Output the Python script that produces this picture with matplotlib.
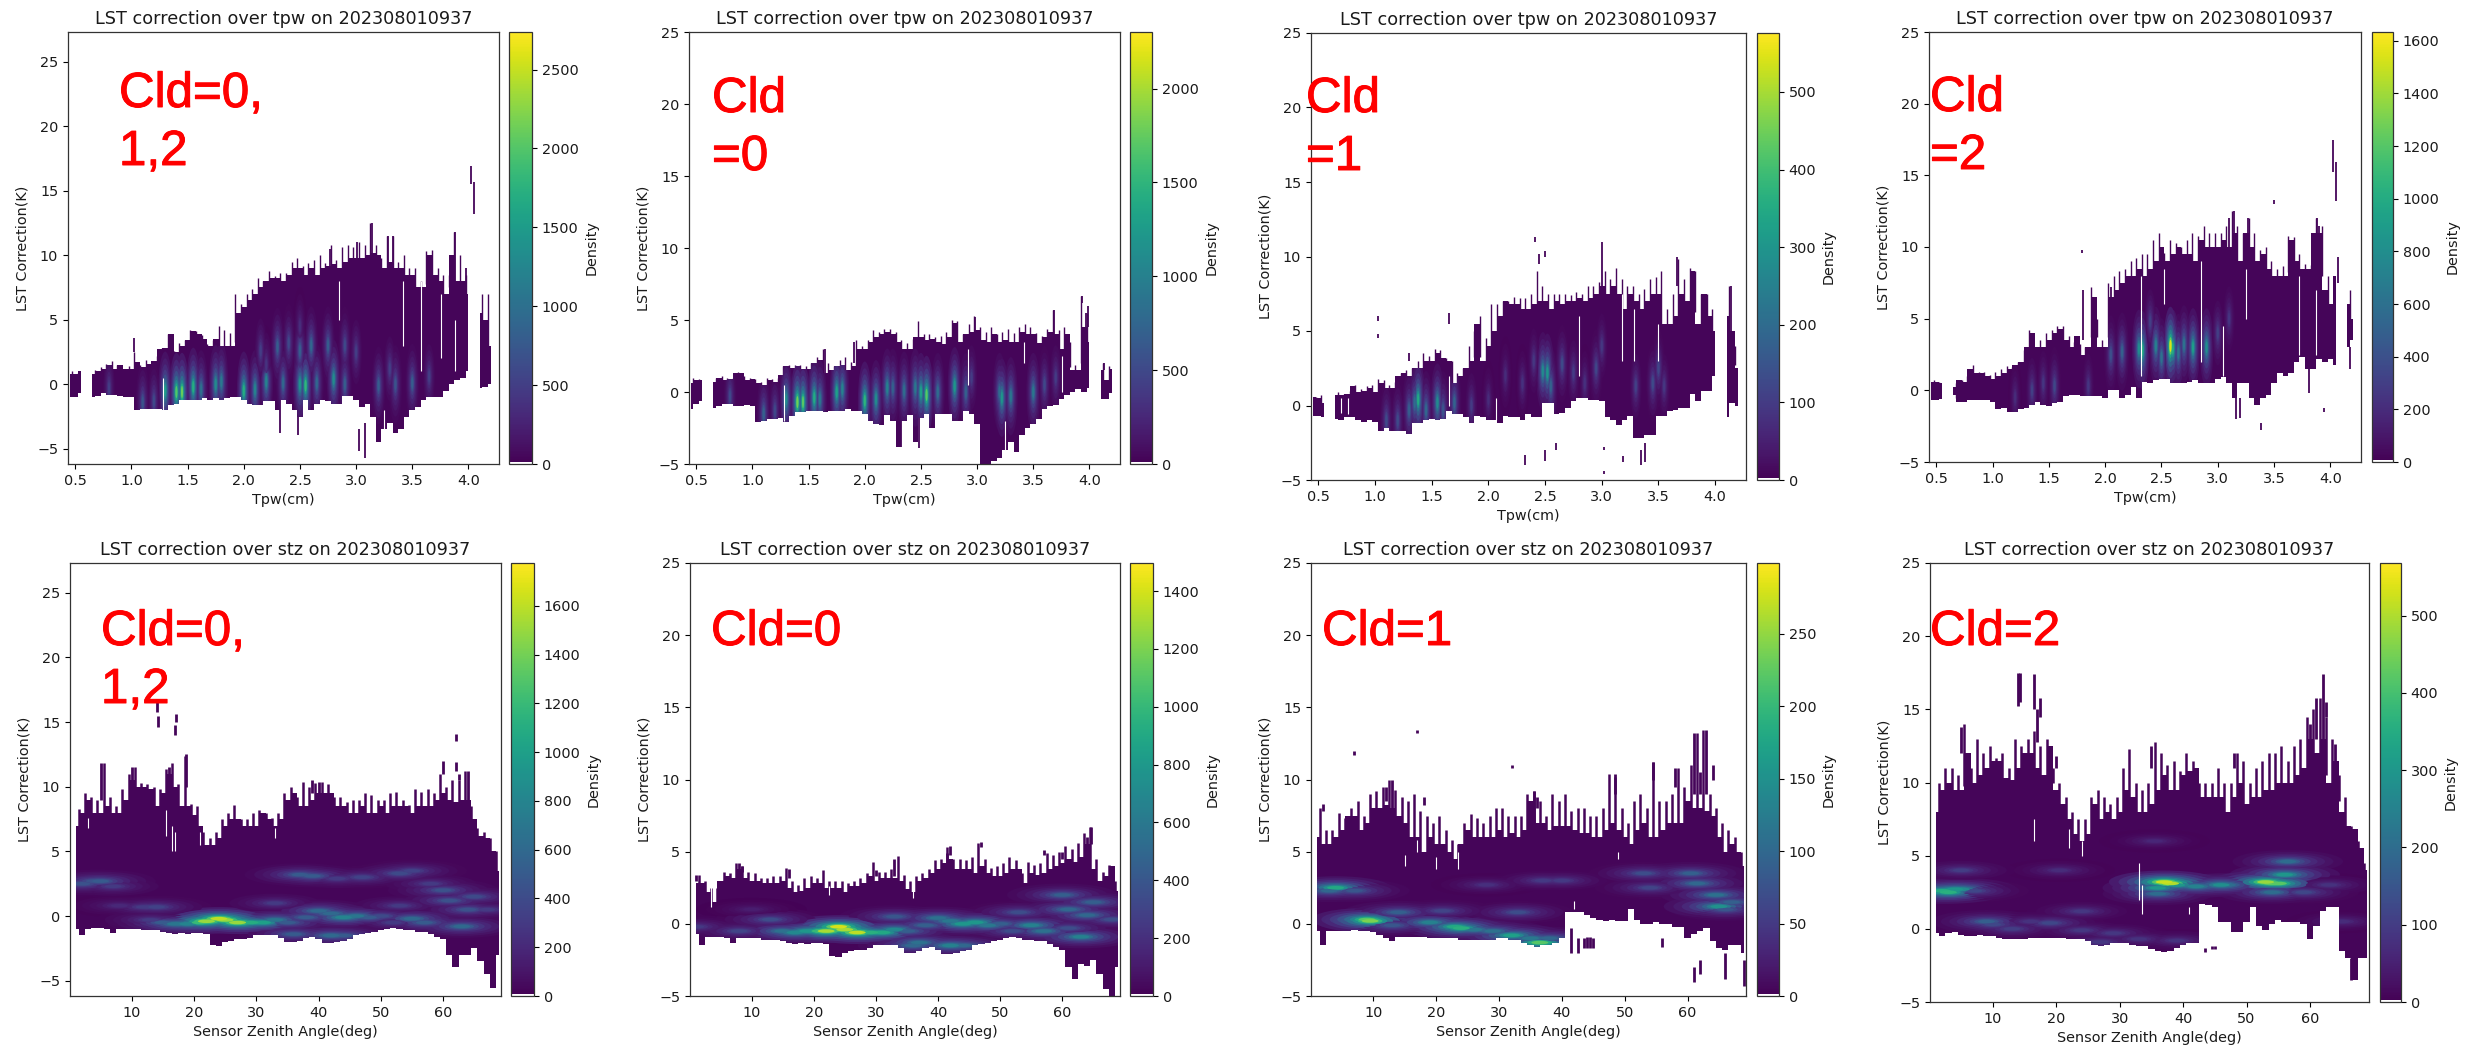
#!/usr/bin/env python3
"""LST correction density panels, tpw on the top row and stz on the bottom row."""

import numpy as np
import matplotlib
matplotlib.use('Agg')
import matplotlib.pyplot as plt
import matplotlib.patheffects as pe
from matplotlib.cm import ScalarMappable
from matplotlib.colors import ListedColormap, Normalize
from matplotlib.markers import MarkerStyle
from matplotlib.path import Path
from matplotlib.transforms import Affine2D

nan = float('nan')
W, H = 2475, 1047

# columns of the point cloud
tpw_x = [0.45, 0.50, 0.55, 0.60, 0.65, 0.70, 0.75, 0.80, 0.85, 0.90,
         0.95, 1.00, 1.05, 1.10, 1.15, 1.20, 1.25, 1.30, 1.35, 1.40,
         1.45, 1.50, 1.55, 1.60, 1.65, 1.70, 1.75, 1.80, 1.85, 1.90,
         1.95, 2.00, 2.05, 2.10, 2.15, 2.20, 2.25, 2.30, 2.35, 2.40,
         2.45, 2.50, 2.55, 2.60, 2.65, 2.70, 2.75, 2.80, 2.85, 2.90,
         2.95, 3.00, 3.05, 3.10, 3.15, 3.20, 3.25, 3.30, 3.35, 3.40,
         3.45, 3.50, 3.55, 3.60, 3.65, 3.70, 3.75, 3.80, 3.85, 3.90,
         3.95, 4.00, 4.05, 4.10, 4.15, 4.20]
stz_x = [1, 2, 3, 4, 5, 6, 7, 8, 9, 10,
         11, 12, 13, 14, 15, 16, 17, 18, 19, 20,
         21, 22, 23, 24, 25, 26, 27, 28, 29, 30,
         31, 32, 33, 34, 35, 36, 37, 38, 39, 40,
         41, 42, 43, 44, 45, 46, 47, 48, 49, 50,
         51, 52, 53, 54, 55, 56, 57, 58, 59, 60,
         61, 62, 63, 64, 65, 66, 67, 68, 69]
# thin streaks on the top edge sit between the columns
tpw_tip_x = [0.475, 0.525, 0.575, 0.625, 0.675, 0.725, 0.775, 0.825, 0.875, 0.925,
             0.975, 1.025, 1.075, 1.125, 1.175, 1.225, 1.275, 1.325, 1.375, 1.425,
             1.475, 1.525, 1.575, 1.625, 1.675, 1.725, 1.775, 1.825, 1.875, 1.925,
             1.975, 2.025, 2.075, 2.125, 2.175, 2.225, 2.275, 2.325, 2.375, 2.425,
             2.475, 2.525, 2.575, 2.625, 2.675, 2.725, 2.775, 2.825, 2.875, 2.925,
             2.975, 3.025, 3.075, 3.125, 3.175, 3.225, 3.275, 3.325, 3.375, 3.425,
             3.475, 3.525, 3.575, 3.625, 3.675, 3.725, 3.775, 3.825, 3.875, 3.925,
             3.975, 4.025, 4.075, 4.125, 4.175]
stz_tip_x = [1.5, 2.5, 3.5, 4.5, 5.5, 6.5, 7.5, 8.5, 9.5, 10.5,
             11.5, 12.5, 13.5, 14.5, 15.5, 16.5, 17.5, 18.5, 19.5, 20.5,
             21.5, 22.5, 23.5, 24.5, 25.5, 26.5, 27.5, 28.5, 29.5, 30.5,
             31.5, 32.5, 33.5, 34.5, 35.5, 36.5, 37.5, 38.5, 39.5, 40.5,
             41.5, 42.5, 43.5, 44.5, 45.5, 46.5, 47.5, 48.5, 49.5, 50.5,
             51.5, 52.5, 53.5, 54.5, 55.5, 56.5, 57.5, 58.5, 59.5, 60.5,
             61.5, 62.5, 63.5, 64.5, 65.5, 66.5, 67.5, 68.5]

tpw_all_hi = [0.8, 0.8, 1.0, nan, 0.8, 1.0, 1.2, 1.5, 1.2, 1.5,
              1.2, 1.2, 1.7, 1.3, 1.6, 1.8, 2.7, 2.8, 3.9, 2.5,
              3.0, 3.4, 4.1, 3.9, 3.5, 3.0, 3.5, 3.0, 3.0, 3.0,
              5.5, 6.0, 6.5, 7.0, 7.5, 8.0, 8.2, 8.2, 8.0, 8.5,
              9.0, 9.0, 8.5, 9.0, 8.5, 9.0, 9.2, 9.3, 9.0, 9.5,
              9.8, 9.8, 9.8, 10.0, 10.2, 10.0, 9.0, 9.5, 9.0, 9.0,
              8.5, 8.5, 7.5, 7.5, 10.0, 8.5, 8.0, 7.0, 10.0, 8.0,
              8.0, 7.0, nan, 5.5, 5.0, 3.0]
tpw_all_lo = [-1.0, -1.0, -0.7, nan, -1.0, -0.9, -0.7, -0.8, -0.8, -0.9,
              -1.0, -1.0, -2.0, -1.9, -1.9, -1.9, -1.9, -2.0, -1.6, -1.5,
              -1.2, -1.2, -1.2, -1.2, -1.1, -1.2, -1.1, -1.2, -1.1, -1.0,
              -1.0, -1.2, -1.5, -1.6, -1.6, -1.3, -1.3, -2.0, -1.2, -1.5,
              -2.0, -2.5, -1.2, -2.0, -1.5, -1.2, -1.3, -1.5, -1.5, -0.9,
              -0.9, -1.2, -1.8, -1.5, -2.5, -4.5, -3.5, -3.0, -3.8, -3.5,
              -2.5, -2.0, -1.8, -1.2, -1.0, -1.0, -1.0, -0.5, 0.0, 0.3,
              0.5, 1.0, nan, -0.3, -0.2, 0.0]
tpw_all_tip = [1.0, 0.9, nan, nan, 1.1, 1.3, 1.6, 1.8, 1.5, 1.2,
               1.4, 2.5, 1.5, 1.9, 1.5, 2.2, 2.8, 3.9, 2.6, 3.2,
               3.4, 4.2, 4.1, 3.8, 3.1, 3.4, 4.5, 4.2, 4.0, 7.0,
               6.2, 7.0, 7.4, 8.2, 8.0, 8.8, 8.4, 8.6, 8.6, 9.5,
               9.8, 9.2, 9.4, 9.6, 10.0, 9.4, 10.8, 9.6, 10.6, 10.8,
               10.6, 11.0, 10.8, 12.5, 10.8, 9.8, 11.5, 11.5, 9.5, 10.0,
               9.0, 9.0, 8.0, 10.3, 10.4, 9.0, 8.5, 8.5, 11.8, 10.0,
               8.5, 7.0, nan, 7.0, 7.0]
tpw_all_ridge_x = [0.8, 1.1, 1.2, 1.3, 1.4, 1.45, 1.55, 1.62, 1.75, 1.8, 2.0, 2.1, 2.2, 2.35,
                   2.5, 2.55, 2.65, 2.8, 2.9, 3.2, 3.35, 3.5, 3.65,
                   2.15, 2.3, 2.4, 2.5, 2.6, 2.75, 2.9, 3.0, 3.3, 2.5, 2.2]
tpw_all_ridge_y = [-0.3, -1.4, -1.3, -0.5, -0.6, -0.6, -0.2, -0.4, 0.0, 0.2, -0.5, -0.4, 0.2, 0.1,
                   0.0, -0.1, 0.1, 0.4, 0.0, -0.1, 0.0, 0.1, 0.6,
                   2.6, 2.9, 3.2, 2.6, 3.0, 3.0, 3.0, 2.5, 1.2, 4.5, 1.5]
tpw_all_ridge_d = [500, 700, 600, 1500, 2000, 2100, 1700, 1000, 1300, 1100, 1700, 1200, 1200, 900,
                   1400, 1800, 900, 1300, 800, 800, 700, 800, 500,
                   500, 800, 600, 800, 900, 800, 600, 500, 500, 350, 400]
tpw_all_spike_x = [4.02, 4.05, 3.14, 3.28, 3.33, 3.08, 3.03, 2.32, 2.48, 3.88, 3.01, 1.33, 1.02, 2.77, 3.98]
tpw_all_spike_lo = [15.5, 13.2, 9.0, 9.0, 9.0, -5.7, -5.2, -3.8, -3.9, 8.0, 9.0, 2.5, 2.5, 9.0, 8.0]
tpw_all_spike_hi = [16.9, 15.7, 12.5, 11.5, 11.5, -3.0, -3.5, -1.0, -1.0, 11.8, 11.0, 3.9, 3.6, 10.5, 9.0]
tpw_all_gap_x = [1.28, 2.85, 3.25, 3.42, 3.58, 3.76, 3.88]
tpw_all_gap_lo = [-2.0, 5.0, -4.0, 3.0, 1.0, 2.0, 1.0]
tpw_all_gap_hi = [0.5, 8.0, -2.0, 8.0, 8.0, 7.0, 5.0]

tpw_c0_hi = [0.6, 0.8, 0.8, nan, 0.7, 1.0, 0.8, 0.9, 1.3, 1.3,
             0.8, 0.9, 0.6, 0.5, 0.8, 0.7, 1.2, 1.8, 1.7, 1.8,
             1.6, 1.6, 2.0, 2.2, 1.3, 1.5, 1.8, 1.9, 1.5, 1.8,
             3.0, 3.0, 3.5, 3.8, 4.0, 4.2, 4.0, 3.5, 3.0, 3.0,
             3.8, 3.8, 3.6, 3.7, 3.5, 3.3, 3.8, 4.8, 3.5, 4.0,
             4.2, 4.3, 3.6, 3.5, 4.0, 3.5, 3.6, 3.5, 3.5, 4.2,
             4.0, 4.0, 3.4, 3.8, 4.2, 4.0, 3.0, 4.0, 1.5, 1.5,
             4.5, 3.5, nan, 1.5, 0.8, 1.6]
tpw_c0_lo = [-1.2, -0.8, -0.6, nan, -1.1, -1.0, -0.8, -0.8, -1.0, -1.0,
             -0.9, -1.0, -2.1, -2.0, -1.9, -1.9, -1.8, -2.1, -1.7, -1.4,
             -1.4, -1.3, -1.3, -1.3, -1.4, -1.3, -1.3, -1.3, -1.2, -1.3,
             -1.3, -1.5, -2.0, -2.2, -2.3, -1.6, -2.0, -3.8, -2.0, -1.6,
             -3.5, -1.8, -1.5, -2.5, -1.5, -1.5, -1.5, -2.0, -2.0, -1.3,
             -1.5, -2.2, -5.0, -5.0, -4.8, -4.6, -4.0, -3.5, -4.2, -3.0,
             -2.5, -2.2, -1.9, -1.2, -1.0, -0.9, -0.5, -0.2, 0.0, 0.2,
             0.0, 0.3, nan, -0.5, -0.5, -0.1]
tpw_c0_tip = [1.0, 0.9, nan, nan, 1.0, 1.1, 1.0, 1.0, 1.4, 1.1,
              1.0, 0.9, 0.7, 1.0, 0.9, 1.0, 1.8, 1.9, 1.9, 1.9,
              1.8, 2.0, 2.4, 3.0, 2.0, 1.8, 2.2, 2.4, 2.1, 3.6,
              3.2, 3.6, 4.3, 4.2, 4.4, 4.4, 4.2, 3.6, 3.4, 3.7,
              4.9, 4.0, 4.0, 3.8, 3.9, 4.2, 5.0, 4.9, 4.0, 4.7,
              5.3, 4.5, 4.2, 4.5, 4.0, 4.2, 4.4, 4.1, 4.5, 4.7,
              4.5, 4.1, 3.9, 4.4, 5.7, 4.3, 4.5, 3.5, 1.9, 6.7,
              5.5, nan, nan, 2.0, 1.8]
tpw_c0_ridge_x = [0.8, 1.1, 1.2, 1.3, 1.4, 1.45, 1.55, 1.6, 1.75, 1.8, 2.0, 2.1, 2.2, 2.25, 2.35,
                  2.45, 2.5, 2.55, 2.65, 2.8, 2.9, 2.95, 3.2, 3.22, 3.3, 3.5, 3.6, 3.7]
tpw_c0_ridge_y = [-0.3, -1.5, -1.3, -0.5, -0.7, -0.7, -0.4, -0.5, 0.0, 0.2, -0.6, -0.5, 0.3, 0.3, 0.1,
                  0.3, 0.0, -0.2, 0.0, 0.4, 0.0, 1.0, 0.0, -0.4, -0.3, 0.0, 0.5, 1.0]
tpw_c0_ridge_d = [500, 700, 500, 1100, 1800, 1700, 1400, 900, 1300, 1000, 1500, 1100, 1000, 700, 800,
                  900, 1300, 1700, 800, 1200, 700, 400, 800, 1200, 900, 900, 500, 400]
tpw_c0_spike_x = [3.93, 3.97, 3.99, 2.32, 2.48, 1.65, 1.9, 2.98, 3.68, 4.13]
tpw_c0_spike_lo = [6.2, 4.5, 4.5, -3.8, -3.9, 1.2, 2.0, 4.0, 3.5, 1.5]
tpw_c0_spike_hi = [6.7, 5.5, 6.0, -1.5, -1.5, 3.0, 3.5, 5.2, 5.7, 2.0]
tpw_c0_gap_x = [1.28, 3.25, 3.42, 3.76, 2.92]
tpw_c0_gap_lo = [-2.0, -4.5, 2.0, 0.0, 0.5]
tpw_c0_gap_hi = [0.5, -2.0, 3.5, 2.5, 3.0]

tpw_c1_hi = [0.6, 0.5, 0.2, nan, 0.7, 0.7, 0.8, 1.3, 0.9, 1.0,
             1.2, 0.9, 1.5, 1.2, 1.2, 2.0, 2.2, 2.0, 2.5, 2.5,
             3.0, 3.0, 3.5, 3.2, 3.0, 1.5, 2.0, 2.5, 3.0, 5.5,
             3.0, 4.0, 5.0, 6.0, 7.0, 6.8, 6.8, 6.5, 6.5, 6.8,
             7.0, 7.0, 6.5, 7.0, 6.8, 7.0, 7.0, 7.2, 7.0, 7.2,
             7.5, 8.0, 7.5, 8.0, 7.5, 6.5, 7.5, 7.0, 6.5, 7.0,
             7.5, 7.5, 5.5, 5.5, 6.0, 7.5, 7.0, 9.0, 5.5, 7.5,
             6.0, 5.0, nan, 6.0, 5.0, 2.5]
tpw_c1_lo = [-0.7, -0.7, -0.8, nan, -0.9, -1.0, -0.8, -0.8, -1.0, -1.1,
             -1.0, -1.1, -1.7, -1.5, -1.7, -1.7, -1.7, -1.9, -1.2, -1.2,
             -1.0, -0.9, -1.0, -0.9, -0.4, -0.6, -0.6, -0.8, -1.2, -0.7,
             -0.8, -1.0, -1.0, -1.2, -0.7, -0.8, -0.8, -1.0, -0.6, -0.8,
             -0.8, 0.2, 0.2, -0.6, -0.5, -0.2, 0.3, 0.5, 0.5, 0.4,
             0.4, 0.3, -0.8, -1.0, -1.3, -1.0, -0.7, -2.2, -2.2, -2.0,
             -2.0, -0.7, -0.7, -0.4, -0.3, -0.2, -0.2, 0.8, 0.3, 1.0,
             1.0, 2.0, nan, -0.8, 0.2, 0.0]
tpw_c1_tip = [0.6, 0.7, nan, nan, 0.9, 0.8, 1.0, 1.4, 1.1, 1.3,
              1.4, 1.8, 1.7, 1.4, 1.6, 2.2, 2.4, 2.5, 3.0, 3.5,
              3.3, 3.8, 3.7, 3.2, 3.0, 2.2, 2.5, 4.0, 5.0, 6.0,
              4.5, 6.8, 6.8, 7.0, 7.0, 7.3, 7.2, 7.2, 7.5, 9.0,
              8.0, 7.5, 7.5, 7.5, 7.5, 7.4, 7.6, 7.5, 8.0, 8.0,
              8.3, 9.0, 8.5, 9.2, 8.5, 8.0, 8.0, 7.5, 7.8, 8.5,
              8.6, 9.0, 6.5, 7.5, 9.8, 8.5, 9.2, 9.0, 7.5, 7.5,
              6.5, nan, 5.8, 8.0, 4.0]
tpw_c1_ridge_x = [1.1, 1.2, 1.3, 1.35, 1.38, 1.45, 1.55, 1.6, 1.7, 1.85, 2.0, 2.15, 2.3, 2.4, 2.48, 2.52,
                  2.55, 2.65, 2.75, 2.85, 2.95, 3.0, 3.3, 3.45, 3.5, 3.55]
tpw_c1_ridge_y = [-1.0, -1.0, -0.3, 0.2, 0.4, -0.3, 0.2, -0.3, 0.2, 0.0, 0.4, 2.0, 1.5, 3.0, 2.3, 2.2,
                  1.3, 2.8, 2.2, 1.5, 2.5, 4.0, 1.3, 1.5, 2.5, 1.3]
tpw_c1_ridge_d = [130, 130, 170, 200, 350, 190, 270, 150, 180, 100, 70, 70, 80, 90, 270, 300,
                  180, 130, 100, 80, 120, 90, 110, 130, 120, 90]
tpw_c1_spike_x = [2.41, 2.45, 2.5, 1.03, 1.03, 2.32, 2.5, 2.6, 3.02, 3.02, 3.19, 3.35, 3.0, 3.66, 3.38, 1.65, 4.14, 1.3]
tpw_c1_spike_lo = [11.0, 9.5, 10.0, 5.7, 4.5, -4.0, -3.7, -3.0, -4.6, -3.0, -3.8, -4.0, 8.0, 8.0, -3.8, 5.5, 5.0, 3.0]
tpw_c1_spike_hi = [11.3, 10.2, 10.4, 6.0, 4.8, -3.3, -3.0, -2.5, -4.4, -2.8, -3.4, -3.0, 11.0, 10.0, -2.5, 6.2, 8.0, 3.5]
tpw_c1_gap_x = [0.7, 0.76, 1.65, 2.07, 2.8, 3.18, 3.28, 3.5]
tpw_c1_gap_lo = [-0.5, -0.6, 0.0, -1.0, 2.0, 3.0, 3.0, 3.0]
tpw_c1_gap_hi = [0.5, 0.5, 2.0, 0.5, 6.0, 7.5, 6.5, 5.5]

tpw_c2_hi = [0.6, 0.6, 0.5, nan, 0.2, 0.7, 0.6, 1.5, 1.2, 1.2,
             1.0, 0.8, 1.0, 1.2, 1.5, 1.8, 2.0, 3.0, 4.0, 3.0,
             3.0, 3.5, 4.0, 4.3, 3.5, 3.0, 3.8, 2.5, 3.0, 6.5,
             3.0, 3.0, 6.5, 7.0, 7.5, 8.0, 8.0, 8.5, 8.0, 8.5,
             9.0, 10.0, 9.0, 9.5, 10.0, 9.5, 9.5, 9.0, 10.5, 10.0,
             10.0, 10.0, 10.5, 10.0, 11.0, 9.0, 11.0, 10.0, 9.0, 9.5,
             8.5, 8.0, 8.0, 8.0, 10.5, 9.0, 8.5, 8.5, 11.0, 11.0,
             7.0, 6.0, 8.0, nan, 6.0, 5.0]
tpw_c2_lo = [-0.7, -0.7, -0.6, nan, -0.3, -0.8, -0.8, -0.7, -0.7, -0.7,
             -0.7, -0.8, -1.3, -1.2, -1.5, -1.5, -1.3, -1.2, -1.0, -0.8,
             -1.0, -1.1, -0.9, -0.8, -0.4, -0.3, -0.3, -0.4, -0.4, -0.4,
             -0.4, -0.5, 0.0, 0.0, -0.5, -0.3, 0.2, -0.5, 0.6, 0.5,
             0.7, 0.8, 0.8, 0.5, 0.5, 0.5, 0.6, 0.7, 0.5, 0.5,
             0.5, 0.8, 0.9, 0.5, -0.5, 0.5, 0.5, -0.5, -1.0, -0.5,
             -0.3, 0.5, 1.2, 1.0, 1.2, 2.0, 2.3, 1.5, 1.5, 2.2,
             2.0, 2.2, 1.8, nan, 3.0, 3.5]
tpw_c2_tip = [0.7, 0.6, nan, nan, 0.5, 0.7, 1.0, 1.8, 1.3, 1.3,
              1.1, 1.3, 1.5, 1.7, 1.6, 2.0, 2.8, 4.2, 3.0, 3.5,
              4.0, 4.2, 4.5, 4.5, 3.8, 3.4, 3.2, 3.0, 7.2, 5.0,
              3.5, 7.5, 8.0, 8.3, 8.5, 9.0, 9.2, 9.5, 9.5, 10.5,
              11.0, 9.6, 10.5, 10.3, 10.0, 10.5, 11.0, 10.8, 11.5, 11.0,
              11.0, 11.0, 11.5, 12.5, 11.5, 11.0, 12.0, 11.0, 9.8, 10.0,
              9.0, 8.5, 8.7, 10.8, 10.7, 9.5, 8.8, 8.5, 12.0, 11.5,
              8.0, 6.0, 9.3, nan, 7.0]
tpw_c2_ridge_x = [1.2, 1.35, 1.45, 1.55, 1.85, 2.05, 2.15, 2.3, 2.33, 2.4, 2.45, 2.5, 2.58, 2.6, 2.65,
                  2.7, 2.78, 2.9, 3.0, 3.1]
tpw_c2_ridge_y = [-0.5, 0.0, 0.5, 0.3, 0.3, 2.5, 2.7, 2.9, 2.8, 4.8, 3.1, 2.3, 3.1, 2.9, 2.6,
                  3.2, 3.0, 3.0, 4.0, 5.0]
tpw_c2_ridge_d = [200, 300, 250, 350, 250, 400, 500, 800, 1000, 300, 700, 600, 1550, 1000, 600,
                  600, 900, 800, 300, 250]
tpw_c2_spike_x = [4.02, 4.05, 3.88, 3.9, 3.81, 3.38, 3.94, 3.1, 3.27, 3.14, 3.5, 2.05, 1.8, 1.79, 4.07, 4.17, 3.16, 3.2]
tpw_c2_spike_lo = [15.2, 13.2, 8.0, 8.0, -0.2, -2.8, -1.5, 9.0, 9.0, 10.0, 13.0, 5.0, 3.5, 9.6, 7.5, 1.5, -2.0, -1.9]
tpw_c2_spike_hi = [17.5, 15.9, 12.0, 11.5, 1.5, -2.3, -1.2, 12.0, 12.0, 12.5, 13.3, 7.2, 7.0, 9.8, 9.3, 3.0, 0.5, -0.5]
tpw_c2_gap_x = [2.32, 2.52, 2.85, 3.05, 3.25, 3.72, 3.87]
tpw_c2_gap_lo = [1.0, 6.0, 2.0, 1.0, 5.0, 2.5, 2.5]
tpw_c2_gap_hi = [8.0, 8.5, 9.0, 4.5, 8.5, 8.0, 7.0]

stz_all_hi = [7, 8, 9, 8, 8, 8.5, 8, 8, 9, 10.5,
              10, 10, 9.8, 8.5, 9.5, 11, 10, 8.5, 8.5, 7.8,
              7, 5.5, 5.5, 6, 7, 7.5, 7.5, 7, 7, 7,
              8, 7.5, 7, 7.5, 9, 9.5, 8.5, 8.5, 9, 9.5,
              9.5, 9.5, 8.5, 8.5, 8, 8, 8.5, 8, 8, 8.5,
              8, 8.5, 8.5, 8.5, 8, 8.5, 8.5, 8.5, 9, 9.5,
              9, 8.8, 9, 9, 7.5, 6.2, 6, 5, 3.5]
stz_all_lo = [-1, -1.5, -1, -0.9, -0.9, -1, -1.3, -1, -1, -1,
              -1, -1.1, -1.1, -1.1, -1.2, -1.3, -1.4, -1.3, -1.4, -1.3,
              -1.3, -1.4, -2.2, -2.3, -2, -1.9, -1.8, -1.8, -1.7, -1.5,
              -1.5, -1.5, -1.5, -1.7, -2, -2, -1.9, -1.7, -1.6, -1.8,
              -2.1, -2.1, -2, -1.9, -1.8, -1.5, -1.4, -1.3, -1.2, -1.1,
              -1, -0.9, -1, -1.1, -1.1, -1.2, -1.2, -1.4, -1.6, -1.8,
              -3, -3.9, -3, -3, -2.5, -3.5, -4.5, -5.6, -3]
stz_all_tip = [8.3, 9.5, 9.2, 9.0, 11.8, 9.2, 8.5, 9.8, 11.0, 11.5,
               10.3, 10.2, 10.0, 9.8, 11.4, 11.8, 10.2, 12.4, 8.7, 8.5,
               6.5, 6.0, 6.5, 7.5, 8.0, 8.6, 7.5, 7.5, 8.0, 8.2,
               8.0, 7.6, 8.0, 9.5, 10.0, 9.2, 10.4, 10.0, 10.3, 10.4,
               10.2, 9.2, 9.2, 8.8, 9.0, 9.0, 9.5, 9.4, 9.0, 9.0,
               9.5, 9.6, 9.0, 8.6, 9.8, 9.6, 9.8, 9.5, 11.0, 10.0,
               10.5, 10.5, 11.2, 8.5, 6.8, 6.5, 6.0, 5.0]
stz_all_ridge_x = [2, 4, 5, 7, 8, 12, 14, 13, 15, 17, 19, 21, 22, 24, 25, 27, 29, 31, 33, 33, 35, 36,
                   37, 39, 38, 40, 42, 44, 42, 44, 46, 48, 50, 52, 53, 55, 57, 43, 47, 53, 55, 58,
                   60, 61, 63, 64, 65, 67]
stz_all_ridge_y = [2.5, 2.7, 2.7, 2.3, 0.8, 0.7, 0.7, -0.3, -0.5, -0.6, -0.6, -0.5, -0.4, -0.2, -0.3, -0.5, -0.5, -0.5,
                   -0.3, 1.0, -0.5, -1.4, 3.2, 3.1, -0.1, 0.4, 0.2, -0.1, -1.5, -1.5, 0.0, -0.1, 0.0, -0.5,
                   0.8, -0.2, -0.5, 2.9, 3.0, 3.3, 3.5, 2.5, 2.0, 1.2, -0.8, 0.5, 1.5, 0.5]
stz_all_ridge_d = [450, 450, 500, 300, 200, 300, 350, 300, 500, 700, 800, 1200, 1500, 1600, 1500, 1500, 1100, 1000,
                   700, 300, 500, 500, 500, 500, 500, 600, 600, 800, 600, 500, 700, 500, 400, 300,
                   300, 600, 500, 300, 350, 400, 350, 300, 450, 450, 600, 450, 400, 300]
stz_all_spike_x = [14, 14.2, 17, 17.1, 5, 10, 16, 18.7, 62, 62, 60, 62.5, 64, 39, 40]
stz_all_spike_lo = [15.8, 14.6, 14.0, 15.0, 9.0, 10.0, 10.0, 10.0, 13.5, 11.2, 11.0, 10.5, 9.0, 9.5, 9.5]
stz_all_spike_hi = [16.8, 15.5, 14.8, 15.6, 11.8, 11.5, 11.5, 12.5, 14.1, 11.9, 12.0, 11.0, 11.2, 10.5, 10.4]
stz_all_gap_x = [3, 15.5, 16.5, 17, 21, 33]
stz_all_gap_lo = [6.8, 6.2, 5.0, 5.0, 5.5, 6.0]
stz_all_gap_hi = [7.6, 8.2, 7.0, 6.5, 6.5, 6.8]

stz_c0_hi = [2.8, 2.8, 2.2, 1.5, 3, 3.3, 3.2, 3.8, 3.2, 3,
             3, 2.8, 2.8, 2.8, 3, 2.5, 2.2, 2.3, 2.5, 2.8,
             2.8, 2.5, 2.5, 2.5, 2.2, 2.6, 2.6, 2.8, 3.3, 3,
             3.2, 3.2, 3.2, 3, 2.4, 2.2, 3, 3.2, 3.5, 3.8,
             4.2, 4.5, 3.8, 3.8, 3.8, 3.5, 4, 3.5, 3.3, 3.3,
             3.5, 3.8, 3.8, 2.8, 3.5, 3.4, 3.5, 3.8, 4, 4.2,
             4.5, 4.3, 4.6, 5.5, 3.8, 3, 3.3, 4, 2.3]
stz_c0_lo = [-0.7, -1.5, -0.9, -0.9, -0.9, -1, -1.3, -1, -1, -1,
             -1, -1.1, -1.1, -1.1, -1.2, -1.3, -1.4, -1.3, -1.4, -1.3,
             -1.3, -1.4, -2.2, -2.3, -2, -1.9, -1.8, -1.8, -1.7, -1.5,
             -1.5, -1.5, -1.5, -1.7, -2, -2, -1.9, -1.7, -1.6, -1.8,
             -2.1, -2.1, -2, -1.9, -1.8, -1.5, -1.4, -1.3, -1.2, -1.1,
             -1, -0.9, -1, -1.1, -1.1, -1.2, -1.2, -1.4, -1.6, -1.8,
             -3, -3.8, -2.8, -2.9, -2.5, -3.5, -4.5, -5, -3]
stz_c0_tip = [3.4, 3.0, 2.5, 2.5, 3.6, 3.5, 4.2, 4.0, 3.6, 3.5,
              3.2, 3.2, 3.3, 3.3, 3.9, 3.0, 2.7, 3.2, 3.3, 3.2,
              3.7, 3.0, 3.0, 3.0, 2.8, 3.0, 3.2, 3.5, 4.3, 3.6,
              3.6, 3.8, 4.7, 3.4, 3.0, 3.3, 3.5, 3.8, 4.4, 4.5,
              5.3, 4.5, 4.5, 4.4, 4.6, 5.6, 4.5, 3.9, 4.0, 4.2,
              4.6, 4.4, 3.5, 4.3, 4.1, 4.2, 4.9, 4.8, 5.0, 5.4,
              5.2, 5.6, 6.3, 6.7, 4.5, 3.6, 4.1, 3.0]
stz_c0_ridge_x = [1, 8, 10, 13, 15, 17, 19, 21, 22, 24, 25, 27, 29, 31, 33, 33, 35, 36, 37, 38, 40, 42,
                  44, 42, 44, 46, 48, 50, 52, 53, 55, 57, 60, 61, 61, 63, 64, 65, 68]
stz_c0_ridge_y = [-0.2, -0.5, 1.0, 0.3, -0.5, -0.6, -0.5, -0.5, -0.5, -0.2, -0.4, -0.6, -0.6, -0.6, -0.4, 0.5, -0.5, -1.5,
                  -1.3, -0.1, 0.4, 0.2, 0.0, -1.5, -1.5, 0.1, -0.1, 0.0, -0.5, 0.8, -0.1, -0.5, 2.0,
                  1.0, -0.3, -0.9, 0.6, 1.5, 0.3]
stz_c0_ridge_d = [250, 300, 120, 350, 550, 700, 800, 1000, 1300, 1400, 1300, 1350, 950, 900, 700, 400, 450, 500,
                  550, 450, 550, 600, 800, 650, 500, 800, 600, 450, 350, 350, 650, 550, 450,
                  500, 350, 650, 500, 450, 350]
stz_c0_spike_x = [64.6, 64, 47, 42, 41.5, 1, 8, 8.5, 16, 30, 33, 57, 60]
stz_c0_spike_lo = [5.5, 5.5, 5.3, 4.8, 4.2, 3.0, 3.8, 3.6, 3.2, 3.3, 3.3, 4.8, 4.5]
stz_c0_spike_hi = [6.7, 6.0, 5.7, 5.4, 4.9, 3.4, 4.2, 4.0, 3.8, 3.7, 4.5, 5.1, 5.0]
stz_c0_gap_x = [3.5, 22.5, 36]
stz_c0_gap_lo = [1.2, 2.0, 1.8]
stz_c0_gap_hi = [2.6, 2.6, 2.4]

stz_c1_hi = [6, 5.5, 5.5, 6, 6.5, 7.5, 7.5, 6.5, 7, 8,
             8, 8.2, 8, 7.5, 7, 6, 6, 5, 6, 5.5,
             5.5, 5, 4.5, 5.5, 6.5, 6, 6, 6, 6, 6.5,
             6, 6.3, 6, 6.5, 8.5, 7, 7, 6.5, 6.8, 6.8,
             6.8, 6.5, 6.3, 6.3, 6, 6, 6.5, 7, 6.5, 6,
             5.5, 6.5, 7, 6, 6, 6.5, 7, 7, 7, 8.5,
             8, 8, 7.8, 7.5, 6, 5, 5.5, 5, 4]
stz_c1_lo = [-0.5, -1.5, -0.5, -0.5, -0.5, -0.5, -0.4, -0.5, -0.5, -0.6,
             -0.8, -1, -1.2, -0.9, -0.9, -0.9, -0.9, -0.9, -1, -1,
             -1, -1, -1, -1.1, -1.1, -1.1, -1.1, -1.1, -1.1, -1,
             -1, -1.1, -1.1, -1.3, -1.5, -1.6, -1.5, -1.5, -1.3, -1,
             0.8, 0.8, 0.8, 0.6, 0.4, 0.3, 0.2, 0.3, 0.2, 0.2,
             1, 0.3, 0, 0, 0.1, 0, 0, -0.2, -0.2, -1,
             -0.7, -0.5, -0.3, -1.2, -1.7, -1.8, -1.5, -1.5, -2]
stz_c1_tip = [8.0, 6.5, 6.5, 7.7, 7.3, 8.0, 8.5, 7.5, 9.0, 9.2,
              9.5, 10.0, 9.3, 8.8, 8.5, 9.0, 7.8, 7.5, 7.0, 7.5,
              6.5, 5.8, 5.5, 7.0, 7.6, 7.3, 7.0, 7.5, 8.0, 8.0,
              7.5, 7.5, 7.5, 9.0, 9.2, 8.5, 7.5, 9.0, 8.5, 9.0,
              7.8, 8.0, 8.0, 7.5, 7.5, 8.0, 10.4, 10.2, 8.0, 7.0,
              8.5, 9.0, 8.0, 11.2, 8.5, 8.5, 9.0, 10.8, 9.5, 11.0,
              13.2, 13.4, 9.0, 8.0, 7.0, 6.5, 6.0, 5.0]
stz_c1_ridge_x = [3, 4, 7, 9, 9.5, 13, 14, 19, 21, 23, 24, 26, 28, 29, 32, 33, 35, 36.5, 37, 38,
                  40, 44, 53, 54, 60.5, 61.5, 64.5, 65, 66, 67]
stz_c1_ridge_y = [2.3, 2.5, 2.3, 0.3, 0.2, -0.1, 0.8, 0.1, 0.9, -0.2, -0.3, -0.4, 2.7, -0.5, -0.8, 0.8, -1.0, -1.3, 3.0, -1.0,
                  3.0, -1.4, 3.5, 2.5, 3.5, 2.8, 2.0, 1.2, 1.0, 1.5]
stz_c1_ridge_d = [100, 180, 80, 220, 240, 80, 90, 130, 60, 180, 190, 120, 40, 110, 170, 70, 120, 220, 50, 100,
                  50, 100, 70, 60, 90, 100, 110, 150, 80, 90]
stz_c1_spike_x = [41.5, 42.5, 43.5, 44, 44.5, 45, 56, 61, 62, 66, 69, 7, 17, 35.5, 36, 48.5, 13, 61, 62, 63, 64,
                  54.5, 58, 32, 2, 12, 18]
stz_c1_spike_lo = [-2.0, -2.0, -1.7, -1.7, -1.7, -1.7, -1.6, -4.0, -3.5, -3.8, -4.3, 11.7, 13.2, 7.0, 8.0, 9.0, 8.0, 9.0, 9.0, 9.0, 10.0,
                   10.0, 9.5, 10.8, 7.8, 8.5, 8.2]
stz_c1_spike_hi = [-0.3, -1.0, -1.0, -0.9, -0.9, -1.0, -1.0, -3.0, -2.5, -2.0, -2.5, 12.0, 13.4, 9.2, 8.8, 10.4, 10.0, 13.2, 10.5, 13.4, 11.0,
                   11.2, 10.8, 11.0, 8.3, 9.5, 8.8]
stz_c1_gap_x = [15, 17, 20, 23.5, 42, 49]
stz_c1_gap_lo = [4.0, 5.0, 3.8, 3.8, 1.0, 4.5]
stz_c1_gap_hi = [4.8, 5.8, 4.6, 5.0, 1.6, 5.0]

stz_c2_hi = [8, 9.5, 10, 9.5, 9.5, 12, 10, 10.5, 11, 11.5,
             11.5, 10.3, 10.2, 11, 12, 12, 11, 10.5, 12.5, 9.5,
             8.5, 7.5, 6.5, 6, 6.5, 8.5, 7.5, 8, 7.5, 8,
             9.5, 9, 8, 8, 8.5, 9.5, 10.5, 9.5, 9.5, 10.5,
             10.8, 11, 9, 9, 9, 9, 8, 9, 10, 8.5,
             9, 9, 9.5, 9.5, 10, 10, 10, 10.5, 11, 13,
             12, 13, 10, 11.5, 8, 7, 6.8, 5.5, 4]
stz_c2_lo = [-0.3, -0.5, -0.3, -0.2, -0.4, -0.5, -0.5, -0.4, -0.5, -0.5,
             -0.6, -0.7, -0.7, -0.7, -0.7, -0.6, -0.6, -0.6, -0.6, -0.6,
             -0.6, -0.7, -0.7, -0.7, -0.8, -1.1, -1.2, -1.1, -1, -1,
             -1, -1.1, -1.2, -1.2, -1.4, -1.5, -1.6, -1.5, -1.3, -1.1,
             -1, -1, 1.7, 1.6, 1.5, 0.5, 0.5, -0.2, -0.2, 0.5,
             1.5, 0.2, -0.1, 0.3, 0.6, 0.5, 0.5, 0.5, 0.3, -0.7,
             0.2, 1.2, 1.5, 1.5, -1.5, -2, -3.5, -2, -2]
stz_c2_tip = [10.0, 11.0, 11.0, 10.5, 14.0, 11.0, 13.0, 12.0, 12.5, 11.7,
              12.0, 11.0, 13.0, 12.5, 13.0, 13.5, 12.5, 13.0, 11.0, 10.0,
              9.0, 8.0, 7.5, 7.5, 9.0, 9.5, 9.0, 8.5, 9.0, 11.0,
              12.3, 10.0, 9.5, 10.0, 12.8, 12.0, 11.2, 11.5, 10.8, 12.0,
              11.5, 10.0, 10.0, 10.0, 11.0, 10.0, 10.0, 12.0, 11.5, 10.0,
              11.0, 11.5, 12.0, 12.0, 12.5, 11.5, 12.5, 13.0, 14.5, 15.0,
              15.8, 14.5, 13.0, 10.5, 9.0, 7.0, 6.0, 4.5]
stz_c2_ridge_x = [1, 2, 3, 4, 5, 5, 7, 9, 10, 13, 16, 19, 20.5, 24, 24, 27, 29, 33, 35.5, 36, 36, 37, 38, 39, 39,
                  42, 46, 47, 53, 54, 54, 55, 56, 56.5, 59, 63, 65]
stz_c2_ridge_y = [2.5, 2.6, 2.5, 2.7, 2.7, 4.0, 2.6, 0.5, 0.3, 0.0, 0.5, 0.4, 4.0, -0.1, 1.2, -0.9, -0.3, -0.7, 6.0, 2.8, 2.4, 3.2, 3.1, 3.0, -0.8,
                  2.9, 3.0, 3.0, 3.2, 3.1, 2.5, 3.1, 3.7, 4.6, 2.5, 3.0, 0.5]
stz_c2_ridge_d = [280, 350, 360, 300, 270, 100, 120, 170, 120, 100, 80, 120, 70, 90, 90, 90, 90, 80, 60, 300, 200, 520, 500, 300, 80,
                  250, 280, 200, 480, 420, 200, 420, 300, 200, 120, 80, 70]
stz_c2_spike_x = [14, 14.3, 16.5, 17, 17.4, 60, 61, 62, 62.5, 64, 5, 20, 35, 48, 66.5, 67, 43.5, 44.5, 45]
stz_c2_spike_lo = [15.2, 15.5, 15.0, 12.8, 14.5, 12.0, 13.0, 13.0, 14.5, 11.5, 12.0, 11.0, 11.0, 11.0, -3.5, -3.0, -1.6, -1.4, -1.4]
stz_c2_spike_hi = [17.5, 17.5, 17.4, 15.0, 15.8, 14.0, 15.8, 17.4, 15.5, 12.6, 13.8, 11.8, 12.5, 12.0, -2.0, -2.0, -1.3, -1.2, -1.2]
stz_c2_gap_x = [33.5, 33, 41, 16.5, 22, 24]
stz_c2_gap_lo = [1.0, 2.0, 1.0, 6.0, 5.5, 5.0]
stz_c2_gap_hi = [3.0, 4.5, 1.5, 7.5, 6.8, 6.0]

titles = ['LST correction over tpw on 202308010937'] * 4 + ['LST correction over stz on 202308010937'] * 4
xlabels = ['Tpw(cm)'] * 4 + ['Sensor Zenith Angle(deg)'] * 4
density_max = [2738, 2301, 576, 1633, 1776, 1497, 299, 568]
density_ticks = [[0, 500, 1000, 1500, 2000, 2500],
                 [0, 500, 1000, 1500, 2000],
                 [0, 100, 200, 300, 400, 500],
                 [0, 200, 400, 600, 800, 1000, 1200, 1400, 1600],
                 [0, 200, 400, 600, 800, 1000, 1200, 1400, 1600],
                 [0, 200, 400, 600, 800, 1000, 1200, 1400],
                 [0, 50, 100, 150, 200, 250],
                 [0, 100, 200, 300, 400, 500]]
cld_lines = [['Cld=0,', '1,2'], ['Cld', '=0'], ['Cld', '=1'], ['Cld', '=2'],
             ['Cld=0,', '1,2'], ['Cld=0'], ['Cld=1'], ['Cld=2']]

# pixel boxes of the axes and colorbars: left, top, right, bottom
ax_boxes = [(68, 32, 499, 464), (689, 32, 1120, 464), (1311, 33, 1746, 480), (1929, 32, 2361, 462),
            (70, 563, 501, 996), (690, 563, 1120, 996), (1311, 563, 1746, 996), (1930, 563, 2369, 1002)]
cb_boxes = [(509, 532), (1130, 1152), (1757, 1779), (2372, 2393),
            (511, 534), (1130, 1153), (1757, 1779), (2380, 2401)]
# pixel anchor of the red labels: left, first baseline
cld_pos = [(119, 107), (712, 112), (1306, 112), (1930, 111),
           (101, 645), (711, 645), (1322, 645), (1930, 645)]

panels = [
    (tpw_x, tpw_all_lo, tpw_all_hi, tpw_tip_x, tpw_all_tip, tpw_all_ridge_x, tpw_all_ridge_y, tpw_all_ridge_d,
     tpw_all_spike_x, tpw_all_spike_lo, tpw_all_spike_hi, tpw_all_gap_x, tpw_all_gap_lo, tpw_all_gap_hi),
    (tpw_x, tpw_c0_lo, tpw_c0_hi, tpw_tip_x, tpw_c0_tip, tpw_c0_ridge_x, tpw_c0_ridge_y, tpw_c0_ridge_d,
     tpw_c0_spike_x, tpw_c0_spike_lo, tpw_c0_spike_hi, tpw_c0_gap_x, tpw_c0_gap_lo, tpw_c0_gap_hi),
    (tpw_x, tpw_c1_lo, tpw_c1_hi, tpw_tip_x, tpw_c1_tip, tpw_c1_ridge_x, tpw_c1_ridge_y, tpw_c1_ridge_d,
     tpw_c1_spike_x, tpw_c1_spike_lo, tpw_c1_spike_hi, tpw_c1_gap_x, tpw_c1_gap_lo, tpw_c1_gap_hi),
    (tpw_x, tpw_c2_lo, tpw_c2_hi, tpw_tip_x, tpw_c2_tip, tpw_c2_ridge_x, tpw_c2_ridge_y, tpw_c2_ridge_d,
     tpw_c2_spike_x, tpw_c2_spike_lo, tpw_c2_spike_hi, tpw_c2_gap_x, tpw_c2_gap_lo, tpw_c2_gap_hi),
    (stz_x, stz_all_lo, stz_all_hi, stz_tip_x, stz_all_tip, stz_all_ridge_x, stz_all_ridge_y, stz_all_ridge_d,
     stz_all_spike_x, stz_all_spike_lo, stz_all_spike_hi, stz_all_gap_x, stz_all_gap_lo, stz_all_gap_hi),
    (stz_x, stz_c0_lo, stz_c0_hi, stz_tip_x, stz_c0_tip, stz_c0_ridge_x, stz_c0_ridge_y, stz_c0_ridge_d,
     stz_c0_spike_x, stz_c0_spike_lo, stz_c0_spike_hi, stz_c0_gap_x, stz_c0_gap_lo, stz_c0_gap_hi),
    (stz_x, stz_c1_lo, stz_c1_hi, stz_tip_x, stz_c1_tip, stz_c1_ridge_x, stz_c1_ridge_y, stz_c1_ridge_d,
     stz_c1_spike_x, stz_c1_spike_lo, stz_c1_spike_hi, stz_c1_gap_x, stz_c1_gap_lo, stz_c1_gap_hi),
    (stz_x, stz_c2_lo, stz_c2_hi, stz_tip_x, stz_c2_tip, stz_c2_ridge_x, stz_c2_ridge_y, stz_c2_ridge_d,
     stz_c2_spike_x, stz_c2_spike_lo, stz_c2_spike_hi, stz_c2_gap_x, stz_c2_gap_lo, stz_c2_gap_hi),
]

plt.rcParams.update({'font.size': 10.4, 'axes.linewidth': 0.9, 'text.color': '#1a1a1a',
                     'axes.labelcolor': '#1a1a1a', 'xtick.labelcolor': '#1a1a1a',
                     'ytick.labelcolor': '#1a1a1a', 'axes.edgecolor': '#333333'})

# viridis with the lowest entry white, as on the original colorbars
colors = plt.get_cmap('viridis')(np.linspace(0, 1, 256))
colors[0] = (1, 1, 1, 1)
cmap = ListedColormap(colors)


def px_rect(left, top, right, bottom):
    return [left / W, 1 - bottom / H, (right - left) / W, (bottom - top) / H]


fig = plt.figure(figsize=(W / 100, H / 100), dpi=100, facecolor='white')

for i, panel in enumerate(panels):
    x, lo, hi, tip_x, tip, rx, ry, rd, sx, slo, shi, gx, glo, ghi = panel
    ax = fig.add_axes(px_rect(*ax_boxes[i]))
    is_tpw = i < 4
    norm = Normalize(0, density_max[i])
    dark = cmap(norm(density_max[i] * 0.014))

    # point cloud body, with the thin streaks along its top edge
    body = ax.fill_between(x, lo, hi, step='mid', color=dark, linewidth=0, zorder=1)
    ax.vlines(sx, slo, shi, color=dark, lw=1.3 if is_tpw else 2.0, zorder=1)
    ax.vlines(tip_x, np.interp(tip_x, x, hi) - 1.0, tip, color=dark, lw=1.0 if is_tpw else 1.8, zorder=1)
    clip = Path.make_compound_path(*body.get_paths())

    # density ridges, streaks upright for tpw and flat for stz
    order = np.argsort(rd)
    rx_s, ry_s, rd_s = np.array(rx)[order], np.array(ry)[order], np.array(rd)[order]
    stretch = (0.3, 1.7) if is_tpw else (2.4, 0.5)
    marker = MarkerStyle('o', transform=Affine2D().scale(*stretch))
    layers = [(0.08, 1100), (0.14, 750), (0.22, 500), (0.32, 320), (0.45, 190), (0.6, 105), (0.8, 55), (1.0, 26)]
    for frac, size in layers:
        sc = ax.scatter(rx_s, ry_s, c=rd_s * frac, s=size, marker=marker, cmap=cmap, norm=norm,
                        linewidths=0, zorder=2)
        sc.set_clip_path(clip, ax.transData)

    ax.vlines(gx, glo, ghi, color='white', lw=0.8, zorder=3)

    if is_tpw:
        ax.set_xlim(0.435, 4.272)
    else:
        ax.set_xlim(0.09, 69.3)
    if i in (0, 4):
        ax.set_ylim(-6.18, 27.3)
    else:
        ax.set_ylim(-5, 25)
    ax.set_title(titles[i], fontsize=12.7, pad=6)
    ax.set_xlabel(xlabels[i])
    ax.set_ylabel('LST Correction(K)', labelpad=5.5)

    left, top, right, bottom = ax_boxes[i]
    cax = fig.add_axes(px_rect(cb_boxes[i][0], top, cb_boxes[i][1], bottom))
    cb = fig.colorbar(ScalarMappable(norm=norm, cmap=cmap), cax=cax, ticks=density_ticks[i])
    cb.set_label('Density')

    # the red cloud-flag labels were pasted on top of the plots
    tx, ty = cld_pos[i]
    for j, line in enumerate(cld_lines[i]):
        t = fig.text(tx / W, 1 - (ty + j * 58) / H, line, color='#ff0000', fontsize=35.5,
                     family='Liberation Sans', ha='left', va='baseline', zorder=10)
        t.set_path_effects([pe.withStroke(linewidth=0.7, foreground='#ff0000')])

fig.savefig('out.png', dpi=100, facecolor='white')
plt.close(fig)
